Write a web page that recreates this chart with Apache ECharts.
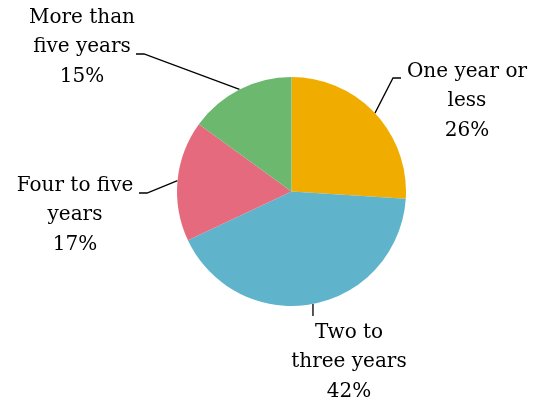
<!DOCTYPE html>
<html><head><meta charset="utf-8">
<script src="https://cdn.jsdelivr.net/npm/echarts@6/dist/echarts.min.js"></script>
<style>html,body{margin:0;padding:0;background:#fff}#c{width:534px;height:408px}</style>
</head><body><div id="c"></div>
<script>
const categories = ["One year or\nless", "Two to\nthree years", "Four to five\nyears", "More than\nfive years"];
const values = [26, 42, 17, 15];
const colors = ["#F0AD00", "#5FB4CC", "#E66A7E", "#6CB86F"];
// label anchor positions (layout only)
const labelPos = [[467, 101], [349, 362], [75, 215], [82, 47]];
// label line elbow / end points (layout only)
const linePts = [[[393, 78], [401, 78]], [[313, 316]], [[147, 193], [139, 193]], [[144, 54], [136, 54]]];

const chart = echarts.init(document.getElementById('c'), null, {renderer: 'canvas'});
chart.setOption({
  animation: false,
  series: [{
    type: 'pie',
    center: [291.5, 191.5],
    radius: 114.5,
    startAngle: 90,
    clockwise: true,
    data: categories.map((n, i) => ({name: n, value: values[i], itemStyle: {color: colors[i]}})),
    label: {
      show: true,
      formatter: p => p.name + '\n' + p.value + '%',
      fontFamily: 'DejaVu Serif',
      fontSize: 20,
      lineHeight: 29.5,
      color: '#000',
      align: 'center'
    },
    labelLine: {show: true, length: 15, length2: 8, lineStyle: {color: '#000', width: 1.3}},
    labelLayout: p => {
      const i = p.dataIndex;
      const start = p.labelLinePoints ? p.labelLinePoints[0] : null;
      const out = {x: labelPos[i][0], y: labelPos[i][1], align: 'center', verticalAlign: 'middle'};
      if (start) {
        const pts = [start].concat(linePts[i]);
        if (pts.length === 2) pts.push(pts[1]);
        out.labelLinePoints = pts;
      }
      return out;
    }
  }]
});
</script></body></html>
